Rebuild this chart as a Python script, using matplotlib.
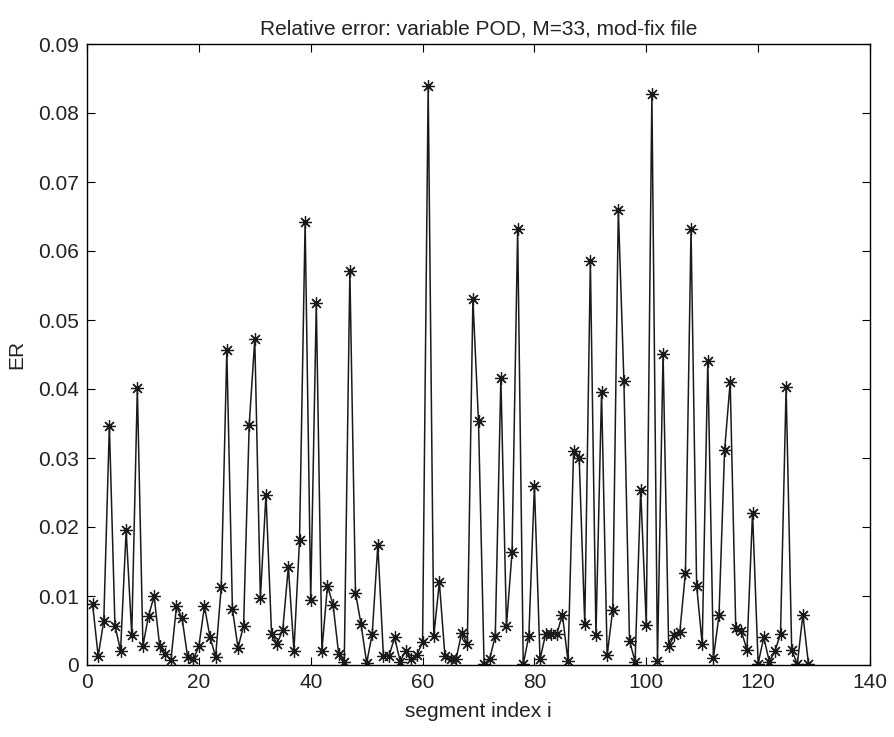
import matplotlib
matplotlib.use("Agg")
import matplotlib.pyplot as plt
import numpy as np

plt.rcParams['font.family'] = ['Liberation Sans', 'DejaVu Sans']

er = [0.0088, 0.0013, 0.0064, 0.0347, 0.0057, 0.0021, 0.0195, 0.0044, 0.0401, 0.0028,
      0.0071, 0.0100, 0.0027, 0.0016, 0.0007, 0.0085, 0.0068, 0.0011, 0.0008, 0.0027,
      0.0085, 0.0040, 0.0012, 0.0113, 0.0456, 0.0081, 0.0025, 0.0057, 0.0348, 0.0472,
      0.0097, 0.0247, 0.0045, 0.0031, 0.0051, 0.0142, 0.0021, 0.0181, 0.0642, 0.0094,
      0.0524, 0.0021, 0.0115, 0.0087, 0.0016, 0.0005, 0.0571, 0.0105, 0.0059, 0.0003,
      0.0045, 0.0174, 0.0013, 0.0013, 0.0040, 0.0005, 0.0021, 0.0008, 0.0015, 0.0033,
      0.0839, 0.0042, 0.0120, 0.0013, 0.0009, 0.0009, 0.0047, 0.0030, 0.0530, 0.0353,
      0.0001, 0.0009, 0.0042, 0.0416, 0.0057, 0.0164, 0.0632, 0.0001, 0.0042, 0.0260,
      0.0008, 0.0045, 0.0045, 0.0045, 0.0073, 0.0006, 0.0310, 0.0300, 0.0059, 0.0585,
      0.0044, 0.0396, 0.0014, 0.0080, 0.0660, 0.0411, 0.0035, 0.0005, 0.0254, 0.0058,
      0.0827, 0.0006, 0.0451, 0.0027, 0.0043, 0.0048, 0.0134, 0.0632, 0.0115, 0.0030,
      0.0441, 0.0010, 0.0072, 0.0311, 0.0410, 0.0053, 0.0049, 0.0022, 0.0221, 0.0002,
      0.0040, 0.0005, 0.0020, 0.0045, 0.0403, 0.0022, 0.0001, 0.0073, 0.0001]
idx = np.arange(1, len(er) + 1)

xticks = [0, 20, 40, 60, 80, 100, 120, 140]
yticks = [0, 0.01, 0.02, 0.03, 0.04, 0.05, 0.06, 0.07, 0.08, 0.09]
ytick_labels = ['0', '0.01', '0.02', '0.03', '0.04', '0.05', '0.06', '0.07', '0.08', '0.09']

fig = plt.figure(figsize=(8.94, 7.37), dpi=100)
ax = fig.add_axes([87/894, 72/737, 783/894, 621/737])
ax.plot(idx, er, color='#1a1a1a', linewidth=1.1, marker=(8, 2, 0), markersize=9,
        markeredgecolor='#1a1a1a', markeredgewidth=0.9)
ax.set_xlim(0, 140)
ax.set_ylim(0, 0.09)
ax.set_xticks(xticks)
ax.set_yticks(yticks)
ax.set_yticklabels(ytick_labels)
ax.tick_params(direction='in', top=True, right=True, labelsize=15, length=6, pad=6,
               labelcolor='#222222')
for s in ax.spines.values():
    s.set_linewidth(1.0)
ax.set_xlabel('segment index i', fontsize=15, labelpad=7, color='#222222')
ax.set_ylabel('ER', fontsize=15, labelpad=8, color='#222222')
ax.set_title('Relative error: variable POD, M=33, mod-fix file', fontsize=15, pad=7,
             color='#222222')
fig.savefig('out.png', dpi=100)
